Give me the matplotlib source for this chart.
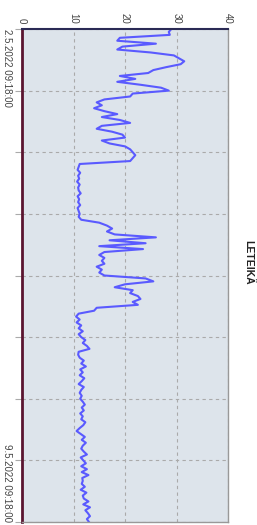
import numpy as np
import pandas as pd
import matplotlib
matplotlib.use('Agg')
import matplotlib.pyplot as plt
import matplotlib.dates as mdates

plt.rcParams['font.family'] = ['Liberation Sans', 'DejaVu Sans']

title = "LETEIKÄ"
start = "2022-05-02 09:18:00"
end = "2022-05-09 09:18:00"
first_label = "2.5.2022 09:18:00"
last_label = "9.5.2022 09:18:00"
value_ticks = [0, 10, 20, 30, 40]

# hourly readings
values = [
    29.0, 28.5, 28.7, 19.0, 18.5, 26.0, 19.5, 18.5, 25.0, 29.5,
    30.5, 31.5, 30.8, 28.0, 25.5, 24.5, 19.0, 22.0, 18.5, 23.0,
    27.0, 28.5,
    21.5, 21.0, 16.0, 14.5, 15.5, 14.0, 16.0, 18.5, 15.5, 19.0,
    21.0, 15.5, 14.5, 17.5, 19.5, 20.0, 15.5, 17.0, 20.0, 21.0,
    21.5,
    22.0, 21.5, 21.0, 11.2, 11.0, 10.8, 11.3, 10.9, 11.1, 10.7,
    11.2, 10.9, 11.0, 11.4, 10.8, 11.1, 10.9, 11.3, 10.8, 11.0,
    11.2,
    11.0, 11.5, 15.0, 16.5, 17.5, 16.5, 18.0, 26.0, 17.0, 24.0,
    15.0, 23.5, 16.0, 15.0, 16.0, 15.5, 16.0, 14.5, 15.5, 15.0,
    16.0,
    24.0, 25.5, 20.0, 18.0, 21.5, 21.0, 22.5, 23.0, 21.5, 22.5,
    14.5, 14.0, 11.0, 10.5, 11.2, 10.6, 11.5, 11.0, 11.8, 11.0,
    11.5,
    12.3, 11.8, 12.6, 13.1, 11.0, 10.9, 11.2, 12.0, 11.5, 12.4,
    11.3, 11.8, 11.2, 12.1, 11.6, 11.0, 12.0, 11.5, 11.2, 11.6,
    11.3,
    11.8, 12.2, 11.6, 12.0, 11.3, 11.8, 11.5, 12.3, 11.9, 11.2,
    10.6, 11.4, 12.2, 11.6, 12.4, 11.8, 11.5, 12.0, 12.6, 11.4,
    11.9,
    12.4, 11.5, 12.6, 11.6, 12.9, 11.7, 11.8, 11.6, 12.2, 11.4,
    12.5, 11.8, 12.0, 12.9, 11.9, 13.2, 12.3, 12.8, 13.2, 12.6,
    13.0,
]

times = pd.date_range(start, end, periods=len(values))
grid_times = pd.date_range(start, end, periods=9)

fig = plt.figure(figsize=(2.57, 5.25), dpi=100)
ax = fig.add_axes([22 / 257, 3 / 525, 206 / 257, 493 / 525])
ax.set_facecolor('#dde4eb')

ax.plot(values, times, color='#5a5aff', lw=1.5)

ax.set_xlim(0, 40)
ax.set_ylim(times[-1], times[0])
ax.xaxis.tick_top()
ax.set_xticks(value_ticks)
ax.set_xticklabels([str(v) for v in value_ticks], rotation=-90, fontsize=7, color='#444444')
ax.tick_params(axis='x', length=0, pad=4)

ax.set_yticks(grid_times)
ylabels = [''] * len(grid_times)
ylabels[0] = first_label
ylabels[-1] = last_label
ax.set_yticklabels(ylabels, rotation=-90, fontsize=7, color='#444444')
labs = ax.get_yticklabels()
labs[0].set_va('top')
labs[-1].set_va('bottom')
ax.tick_params(axis='y', length=5, color='#aaaaaa', pad=2)

ax.grid(True, color='#aaaaaa', ls=(0, (3, 3)), lw=0.8)

ax.spines['left'].set_color('#5a1530')
ax.spines['left'].set_linewidth(2)
ax.spines['top'].set_color('#2a2a55')
ax.spines['top'].set_linewidth(1.5)
for s in ['right', 'bottom']:
    ax.spines[s].set_color('#999999')
    ax.spines[s].set_linestyle((0, (1, 1)))
    ax.spines[s].set_linewidth(1)

fig.text(248 / 257, 0.5, title, rotation=-90, ha='center', va='center',
         fontsize=7.5, fontweight='bold', color='#222222')

fig.savefig('out.png', dpi=100)
